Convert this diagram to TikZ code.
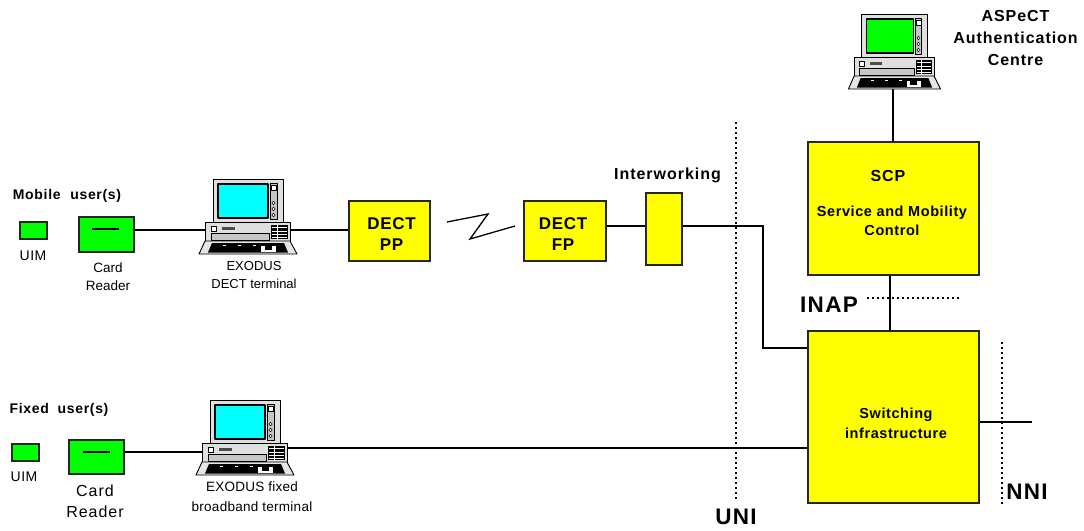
\documentclass[tikz,border=0pt]{standalone}
\usepackage{fontspec}
\setmainfont{Liberation Sans}
\definecolor{ry}{RGB}{255,255,0}
\definecolor{rg}{RGB}{0,255,0}
\definecolor{rc}{RGB}{0,255,255}
\newcommand{\fnt}[3]{\fontsize{#1}{#2}\selectfont\addfontfeature{LetterSpace=#3}}
\tikzset{
  x=1pt,y=-1pt,
  ybox/.style={draw=black!85,line width=1.6pt,fill=ry,inner sep=0pt},
  gbox/.style={draw=black!85,line width=1.2pt,fill=rg,inner sep=0pt},
  wire/.style={draw=black,line width=1.2pt},
  dots/.style={draw=black,line width=1.1pt,dash pattern=on 1.5pt off 3.5pt},
  lab/.style={inner sep=0pt,align=center,font=\fontsize{13}{17}\selectfont},
  blab/.style={inner sep=0pt,align=center},
  big/.style={inner sep=0pt,font=\bfseries\fnt{22.5}{24}{6}},
  pcarea/.style={inner sep=0pt,minimum width=97pt,minimum height=75pt},
  pc/.pic={
    \begin{scope}[line join=round]
    \fill[gray!25,draw=black,line width=.9pt] (-35,-37) rectangle (35,6);
    \fill[#1,draw=black,line width=1.4pt] (-30,-32) rectangle (20,2);
    \fill[gray!45,draw=black,line width=.7pt] (22,-33) rectangle (29,3);
    \fill[white,draw=black,line width=.5pt] (23,-31) rectangle (28,-26);
    \foreach \q in {-13,-7,-1}{\draw[black,fill=white,line width=.5pt] (25.5,\q) circle (1.7);}
    \fill[gray!25,draw=black,line width=.9pt] (-43,6) rectangle (42,25);
    \fill[white,draw=black,line width=.6pt] (-37,10) rectangle (-32,15);
    \fill[black!70] (-26,10.5) rectangle (-13,14);
    \fill[gray!45,draw=black,line width=.6pt] (-37,17) rectangle (21,24);
    \fill[black] (23,9) rectangle (40,23);
    \foreach \q in {11.5,15,18.5,21.5}{\draw[white,line width=.7pt] (24,\q) -- (39,\q);}
    \draw[white,line width=.7pt] (29,9) -- (29,23);
    \fill[gray!20,draw=black,line width=.9pt] (-43,25) -- (42,25) -- (49,38) -- (-49,38) -- cycle;
    \fill[black] (-36,27) -- (36,27) -- (40,36.5) -- (-40,36.5) -- cycle;
    \foreach \q in {-25,-10,5}{\fill[white] (\q,28.5) rectangle (\q+3,30);}
    \fill[white] (13,30) rectangle (17,36);
    \fill[white] (24,30) rectangle (28,36);
    \fill[white] (13,34) rectangle (28,36);
    \end{scope}
  }
}
\begin{document}
\begin{tikzpicture}
\useasboundingbox (0,0) rectangle (1084,530);
% boxes
\node[ybox,minimum width=81pt,minimum height=60pt] (pp) at (389.5,231) {};
\node[ybox,minimum width=82pt,minimum height=60pt] (fp) at (565,231) {};
\node[ybox,minimum width=36pt,minimum height=72pt] (iw) at (664,229) {};
\node[ybox,minimum width=171pt,minimum height=133pt] (scp) at (893.5,208.5) {};
\node[ybox,minimum width=171pt,minimum height=172pt] (sw) at (893.5,417) {};
\node[gbox,minimum width=27pt,minimum height=17pt] (uim1) at (33.5,230.5) {};
\node[gbox,minimum width=55pt,minimum height=35pt] (cr1) at (106.5,234.5) {};
\node[gbox,minimum width=27pt,minimum height=17pt] (uim2) at (25.5,452.5) {};
\node[gbox,minimum width=55pt,minimum height=34pt] (cr2) at (96.5,457) {};
% computer extents
\node[pcarea] (pc1) at (248,216) {};
\node[pcarea] (pc2) at (245,437) {};
\node[pcarea,minimum width=92pt] (pc3) at (894.5,51) {};
% card slots
\coordinate (s1a) at (92,229); \coordinate (s1b) at (119,229);
\coordinate (s2a) at (83,452); \coordinate (s2b) at (110,452);
\draw[wire] (s1a) -- (s1b);
\draw[wire] (s2a) -- (s2b);
% connectors
\coordinate (j1) at (cr1.east |- 0,230);
\coordinate (j2) at (pp.west |- 0,230);
\draw[wire] (j1) -- (j2);
\draw[wire] (fp.east |- 0,226) -- (iw.west |- 0,226);
\coordinate (t1) at (763,226);
\coordinate (t2) at (763,348);
\draw[wire] (iw.east |- t1) -- (t1) -- (t2) -- (sw.west |- t2);
\coordinate (j3) at (cr2.east |- 0,452);
\draw[wire] (j3) -- (pc2.center |- j3);
\coordinate (j4) at (pc2.center |- 0,448);
\draw[wire] (j4) -- (sw.west |- j4);
\coordinate (w3) at (893,80);
\draw[wire] (w3) -- (w3 |- scp.north);
\coordinate (i1) at (890,275);
\draw[wire] (i1 |- scp.south) -- (i1 |- sw.north);
\coordinate (nn) at (1032,422);
\draw[wire] (sw.east |- nn) -- (nn);
% radio link
\coordinate (z1) at (447,222);
\coordinate (z2) at (488,214);
\coordinate (z3) at (470,239);
\coordinate (z4) at (515,226);
\draw[wire,line width=1.3pt] (z1) -- (z2) -- (z3) -- (z4);
% dotted boundaries
\coordinate (u1) at (736,122); \coordinate (u2) at (736,501);
\draw[dots] (u1) -- (u2);
\coordinate (in1) at (867,298); \coordinate (in2) at (960,298);
\draw[dots] (in1) -- (in2);
\coordinate (n1) at (1002,342); \coordinate (n2) at (1002,505);
\draw[dots] (n1) -- (n2);
% computers
\pic at (pc1.center) {pc=rc};
\pic at (pc2.center) {pc=rc};
\pic[xscale=.94] at (pc3.center) {pc=rg};
% labels
\node[blab,font=\bfseries\fnt{17}{21}{4}] (lpp) at (391.5,234.5) {DECT\\PP};
\node[blab,font=\bfseries\fnt{17}{21}{4}] (lfp) at (563,234.5) {DECT\\FP};
\node[blab,font=\bfseries\fnt{14}{19}{5}] (tm) at (67,196) {Mobile\hspace{5pt} user(s)};
\node[blab,font=\bfseries\fnt{14}{19}{5}] (tf) at (59,410) {Fixed\hspace{4pt} user(s)};
\node[lab,font=\fnt{14}{17}{3}] (lu1) at (33,256) {UIM};
\node[lab,font=\fnt{14}{17}{3}] (lu2) at (24,477) {UIM};
\node[lab,font=\fontsize{13.5}{18}\selectfont] (lc1) at (108,277) {Card\\Reader};
\node[lab,font=\fnt{16}{21}{6}] (lc2) at (95,501) {Card\\Reader};
\node[lab,font=\fontsize{13}{18}\selectfont] (le1) at (254,275) {EXODUS\\DECT terminal};
\node[lab,font=\fnt{13.5}{20}{2}] (le2) at (252,497) {EXODUS fixed\\broadband terminal};
\node[blab,font=\bfseries\fnt{16}{18}{6}] (liw) at (667.5,175) {Interworking};
\node[blab,font=\bfseries\fnt{16}{22}{6}] (las) at (1015.5,38) {ASPeCT\\Authentication\\Centre};
\node[blab,font=\bfseries\fnt{16}{18}{6}] (lscp) at (888,176) {SCP};
\node[blab,font=\bfseries\fnt{14.5}{19}{4}] (lsm) at (892,221) {Service and Mobility\\Control};
\node[blab,font=\bfseries\fnt{14.5}{20}{4}] (lsw) at (896,423) {Switching\\infrastructure};
\node[big] (linap) at (829,305) {INAP};
\node[big] (luni) at (736,517) {UNI};
\node[big] (lnni) at (1027,492) {NNI};
\end{tikzpicture}
\end{document}
